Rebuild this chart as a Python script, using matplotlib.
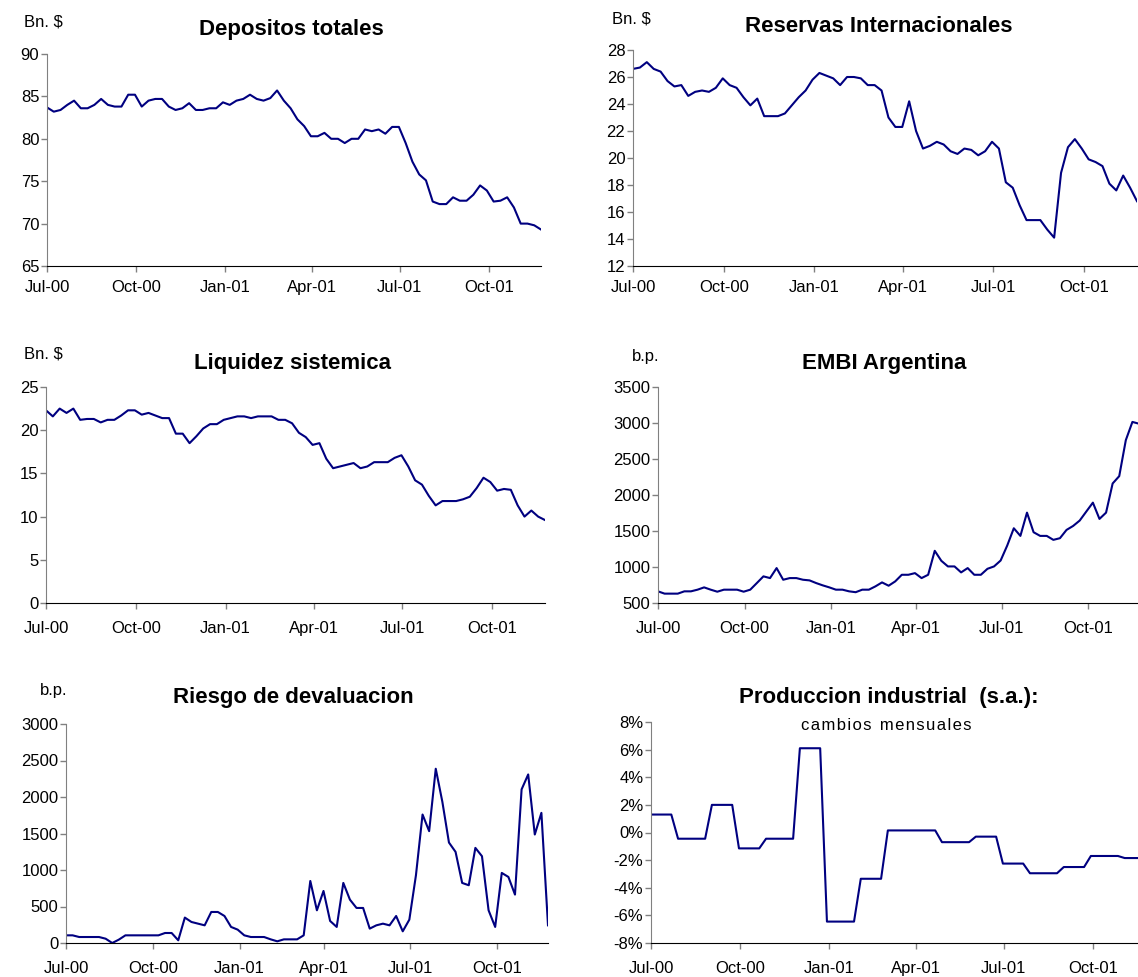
import numpy as np
import pandas as pd
import matplotlib

matplotlib.use("Agg")
import matplotlib.pyplot as plt
import matplotlib.dates as mdates
from matplotlib.ticker import FuncFormatter

plt.rcParams["font.family"] = ["Liberation Sans", "DejaVu Sans"]

# weekly observations, Jul-2000 .. late 2001
dates = pd.date_range("2000-07-01", periods=74, freq="7D")

depositos = [
    83.7, 83.2, 83.4, 84.0, 84.5, 83.6, 83.6, 84.0, 84.7, 84.0,
    83.8, 83.8, 85.2, 85.2, 83.8, 84.5, 84.7, 84.7, 83.8, 83.4,
    83.6, 84.2, 83.4, 83.4, 83.6, 83.6, 84.3, 84.0, 84.5, 84.7,
    85.2, 84.7, 84.5, 84.8, 85.7, 84.5, 83.6, 82.3, 81.5, 80.3,
    80.3, 80.7, 80.0, 80.0, 79.5, 80.0, 80.0, 81.1, 80.9, 81.1,
    80.6, 81.4, 81.4, 79.5, 77.3, 75.8, 75.1, 72.6, 72.3, 72.3,
    73.1, 72.7, 72.7, 73.4, 74.5, 73.9, 72.6, 72.7, 73.1, 71.9,
    70.0, 70.0, 69.8, 69.3,
]

reservas = [
    26.6, 26.7, 27.1, 26.6, 26.4, 25.7, 25.3, 25.4, 24.6, 24.9,
    25.0, 24.9, 25.2, 25.9, 25.4, 25.2, 24.5, 23.9, 24.4, 23.1,
    23.1, 23.1, 23.3, 23.9, 24.5, 25.0, 25.8, 26.3, 26.1, 25.9,
    25.4, 26.0, 26.0, 25.9, 25.4, 25.4, 25.0, 23.0, 22.3, 22.3,
    24.2, 22.0, 20.7, 20.9, 21.2, 21.0, 20.5, 20.3, 20.7, 20.6,
    20.2, 20.5, 21.2, 20.7, 18.2, 17.8, 16.5, 15.4, 15.4, 15.4,
    14.7, 14.1, 18.9, 20.8, 21.4, 20.7, 19.9, 19.7, 19.4, 18.1,
    17.6, 18.7, 17.8, 16.8,
]

liquidez = [
    22.3, 21.6, 22.5, 22.0, 22.5, 21.2, 21.3, 21.3, 20.9, 21.2,
    21.2, 21.7, 22.3, 22.3, 21.8, 22.0, 21.7, 21.4, 21.4, 19.6,
    19.6, 18.5, 19.3, 20.2, 20.7, 20.7, 21.2, 21.4, 21.6, 21.6,
    21.4, 21.6, 21.6, 21.6, 21.2, 21.2, 20.8, 19.7, 19.2, 18.3,
    18.5, 16.7, 15.6, 15.8, 16.0, 16.2, 15.6, 15.8, 16.3, 16.3,
    16.3, 16.8, 17.1, 15.8, 14.2, 13.7, 12.4, 11.3, 11.8, 11.8,
    11.8, 12.0, 12.3, 13.3, 14.5, 14.0, 13.0, 13.2, 13.1, 11.3,
    10.0, 10.7, 10.0, 9.6,
]

embi = [
    662, 630, 630, 630, 662, 662, 685, 717, 685, 657,
    685, 685, 685, 657, 685, 777, 870, 846, 985, 823,
    846, 846, 823, 814, 777, 745, 717, 685, 685, 662,
    650, 685, 685, 731, 786, 740, 800, 892, 892, 915,
    846, 892, 1225, 1086, 1008, 1008, 925, 985, 892, 892,
    975, 1008, 1090, 1298, 1538, 1432, 1755, 1483, 1432, 1432,
    1377, 1400, 1515, 1570, 1645, 1770, 1894, 1668, 1755, 2160,
    2262, 2762, 3015, 2990,
]

riesgo = [
    105, 105, 82, 82, 82, 82, 59, 0, 46, 105,
    105, 105, 105, 105, 105, 137, 137, 37, 348, 288,
    265, 242, 425, 425, 370, 220, 183, 105, 82, 82,
    82, 50, 23, 50, 50, 50, 105, 850, 448, 713,
    302, 220, 823, 594, 480, 480, 197, 242, 265, 242,
    370, 160, 320, 928, 1760, 1532, 2387, 1934, 1376, 1248,
    823, 791, 1303, 1189, 448, 220, 960, 905, 663, 2104,
    2309, 1486, 1783, 242,
]

# monthly s.a. change, repeated on each week of the month (%)
produccion = [
    1.3, 1.3, 1.3, 1.3, -0.45, -0.45, -0.45, -0.45, -0.45, 2.0,
    2.0, 2.0, 2.0, -1.15, -1.15, -1.15, -1.15, -0.45, -0.45, -0.45,
    -0.45, -0.45, 6.1, 6.1, 6.1, 6.1, -6.45, -6.45, -6.45, -6.45,
    -6.45, -3.35, -3.35, -3.35, -3.35, 0.15, 0.15, 0.15, 0.15, 0.15,
    0.15, 0.15, 0.15, -0.7, -0.7, -0.7, -0.7, -0.7, -0.3, -0.3,
    -0.3, -0.3, -2.25, -2.25, -2.25, -2.25, -2.95, -2.95, -2.95, -2.95,
    -2.95, -2.5, -2.5, -2.5, -2.5, -1.7, -1.7, -1.7, -1.7, -1.7,
    -1.85, -1.85, -1.85, -1.85,
]

W, H = 1138, 977
LINE = "#000080"

fig = plt.figure(figsize=(W / 100, H / 100), dpi=100)


def add_panel(box, values, ylim, ystep, title, title_xy, unit=None, unit_xy=None,
              pct=False, xpad=9):
    left, top, right, bottom = box
    ax = fig.add_axes([left / W, 1 - bottom / H, (right - left) / W, (bottom - top) / H])
    ax.plot(dates, values, color=LINE, lw=1.5, solid_joinstyle="round")
    ax.set_xlim(dates[0], dates[-1])
    ax.set_ylim(*ylim)
    ax.set_yticks(np.arange(ylim[0], ylim[1] + ystep / 2, ystep))
    if pct:
        ax.yaxis.set_major_formatter(FuncFormatter(lambda v, _: f"{v:.0f}%"))
    else:
        ax.yaxis.set_major_formatter(FuncFormatter(lambda v, _: f"{v:.0f}"))
    ax.xaxis.set_major_locator(mdates.MonthLocator(bymonth=[1, 4, 7, 10]))
    ax.xaxis.set_major_formatter(mdates.DateFormatter("%b-%y"))
    ax.xaxis.set_minor_locator(matplotlib.ticker.NullLocator())
    for s in ("top", "right"):
        ax.spines[s].set_visible(False)
    ax.spines["left"].set_color("#808080")
    ax.spines["bottom"].set_color("black")
    ax.tick_params(axis="y", length=4, width=1, color="#808080", pad=1.5,
                   labelsize=12)
    ax.tick_params(axis="x", length=4, width=1, color="#808080", pad=xpad,
                   labelsize=12)
    ax.set_facecolor("none")
    fig.text(title_xy[0] / W, 1 - title_xy[1] / H, title, ha="center", va="center",
             fontsize=16, fontweight="bold")
    if unit:
        fig.text(unit_xy[0] / W, 1 - unit_xy[1] / H, unit, ha="center", va="center",
                 fontsize=12)
    return ax


add_panel((47, 54, 541, 266), depositos, (65, 90), 5, "Depositos totales", (291, 30),
          "Bn. $", (43, 22), xpad=6)
add_panel((633, 50, 1137, 266), reservas, (12, 28), 2, "Reservas Internacionales",
          (879, 26), "Bn. $", (631, 19), xpad=6)
add_panel((46, 387, 545, 603), liquidez, (0, 25), 5, "Liquidez sistemica", (292, 363),
          "Bn. $", (43, 354))
add_panel((658, 387, 1139, 603), embi, (500, 3500), 500, "EMBI Argentina", (884, 363),
          "b.p.", (646, 357))
add_panel((66, 724, 548, 943), riesgo, (0, 3000), 500, "Riesgo de devaluacion",
          (293, 697), "b.p.", (54, 691))
add_panel((651, 722, 1145, 943), produccion, (-8, 8), 2,
          "Produccion industrial  (s.a.):", (889, 697), pct=True)
fig.text(886 / W, 1 - 726 / H, "c a m b i o s  m e n s u a l e s".replace("  ", "\u2002")
         .replace(" ", "\u200a"), ha="center", va="center", fontsize=12)

fig.savefig("out.png", dpi=100)
